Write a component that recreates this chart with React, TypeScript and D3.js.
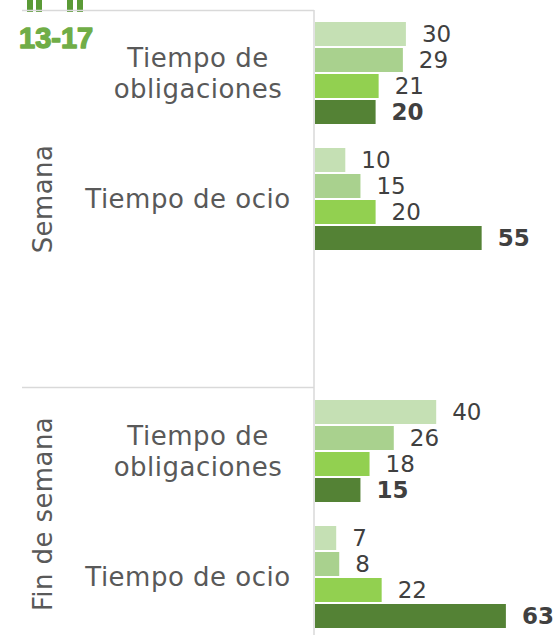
import React, { useRef, useEffect } from 'react';
import * as d3 from 'd3';

// series (age group bars, light to dark)
const series = ['A', 'B', 'C', 'D'];
const seriesColors = ['#c5e0b4', '#a9d18e', '#92d050', '#548235'];

const sections = ['Semana', 'Fin de semana'];
const categories = ['Tiempo de obligaciones', 'Tiempo de ocio'];

const semanaObligaciones = [30, 29, 21, 20];
const semanaOcio = [10, 15, 20, 55];
const finObligaciones = [40, 26, 18, 15];
const finOcio = [7, 8, 22, 63];

const groupTitle = '13-17';

const App = () => {
    const svgRef = useRef<SVGSVGElement>(null);

    useEffect(() => {
        const svg = d3.select(svgRef.current);
        svg.selectAll('*').remove();

        const font = 'DejaVu Sans, sans-serif';
        const axisX = 314;

        // one slot per category row; Semana keeps an empty third row
        const rows = [
            { key: 'sem-obl', section: sections[0], cat: categories[0], values: semanaObligaciones },
            { key: 'sem-ocio', section: sections[0], cat: categories[1], values: semanaOcio },
            { key: 'sem-empty', section: sections[0], cat: '', values: [] as number[] },
            { key: 'fin-obl', section: sections[1], cat: categories[0], values: finObligaciones },
            { key: 'fin-ocio', section: sections[1], cat: categories[1], values: finOcio },
        ];

        const y = d3.scaleBand()
            .domain(rows.map(r => r.key))
            .range([10, 640]);

        const inner = d3.scaleBand()
            .domain(series)
            .range([12, 114])
            .paddingInner(2 / 26);

        const x = d3.scaleLinear()
            .domain([0, 100])
            .range([axisX + 1, axisX + 1 + 303]);

        // green marks cut off at the top
        [27, 36, 67, 77].forEach(px => {
            svg.append('rect')
                .attr('x', px).attr('y', 0)
                .attr('width', 6).attr('height', 12)
                .attr('fill', '#5a9a36');
        });

        // frame lines
        const grid = '#d9d9d9';
        svg.append('line')
            .attr('x1', 22).attr('x2', axisX).attr('y1', 10.5).attr('y2', 10.5)
            .attr('stroke', grid).attr('stroke-width', 1.5);
        svg.append('line')
            .attr('x1', 22).attr('x2', axisX).attr('y1', y('fin-obl')! - 0.5).attr('y2', y('fin-obl')! - 0.5)
            .attr('stroke', grid).attr('stroke-width', 1.5);
        svg.append('line')
            .attr('x1', axisX).attr('x2', axisX).attr('y1', 10).attr('y2', 640)
            .attr('stroke', grid).attr('stroke-width', 1.5);

        svg.append('text')
            .attr('x', 19).attr('y', 48)
            .attr('font-family', 'Liberation Sans, Arial, sans-serif')
            .attr('font-weight', 'bold')
            .attr('font-size', 29)
            .attr('fill', '#70ad47')
            .attr('stroke', '#70ad47')
            .attr('stroke-width', 1.4)
            .attr('stroke-linejoin', 'round')
            .text(groupTitle);

        // section labels, rotated
        sections.forEach(s => {
            const rs = rows.filter(r => r.section === s);
            const top = y(rs[0].key)!;
            const bottom = y(rs[rs.length - 1].key)! + y.bandwidth();
            const cy = (top + bottom) / 2;
            svg.append('text')
                .attr('transform', `translate(52,${cy}) rotate(-90)`)
                .attr('text-anchor', 'middle')
                .attr('font-family', font)
                .attr('font-size', 26)
                .attr('letter-spacing', 0.4)
                .attr('fill', '#595959')
                .text(s);
        });

        rows.forEach(r => {
            const g = svg.append('g').attr('transform', `translate(0,${y(r.key)})`);
            const mid = (inner.range()[0] + inner.range()[1]) / 2;

            if (r.cat) {
                const words = r.cat === categories[0] ? ['Tiempo de', 'obligaciones'] : [r.cat];
                const cx = words.length > 1 ? 198 : 188;
                const t = g.append('text')
                    .attr('text-anchor', 'middle')
                    .attr('font-family', font)
                    .attr('font-size', 26)
                    .attr('letter-spacing', 0.5)
                    .attr('fill', '#595959');
                words.forEach((w, i) => {
                    t.append('tspan')
                        .attr('x', cx)
                        .attr('y', mid + (i - (words.length - 1) / 2) * 31)
                        .attr('dy', '0.36em')
                        .text(w);
                });
            }

            g.selectAll('.bar')
                .data(r.values)
                .join('rect')
                .attr('class', 'bar')
                .attr('x', x(0))
                .attr('y', (d, i) => inner(series[i])!)
                .attr('width', d => x(d) - x(0))
                .attr('height', inner.bandwidth())
                .attr('fill', (d, i) => seriesColors[i]);

            g.selectAll('.val')
                .data(r.values)
                .join('text')
                .attr('class', 'val')
                .attr('x', d => x(d) + 16)
                .attr('y', (d, i) => inner(series[i])! + inner.bandwidth() / 2)
                .attr('dy', '0.36em')
                .attr('font-family', font)
                .attr('font-size', 23)
                .attr('font-weight', (d, i) => (i === series.length - 1 ? 'bold' : 'normal'))
                .attr('fill', '#404040')
                .text(d => d);
        });
    }, []);

    return (
        <svg ref={svgRef} width="558" height="635"
            style={{ position: 'absolute', left: 0, top: 0, display: 'block' }}></svg>
    );
};

export default App;
